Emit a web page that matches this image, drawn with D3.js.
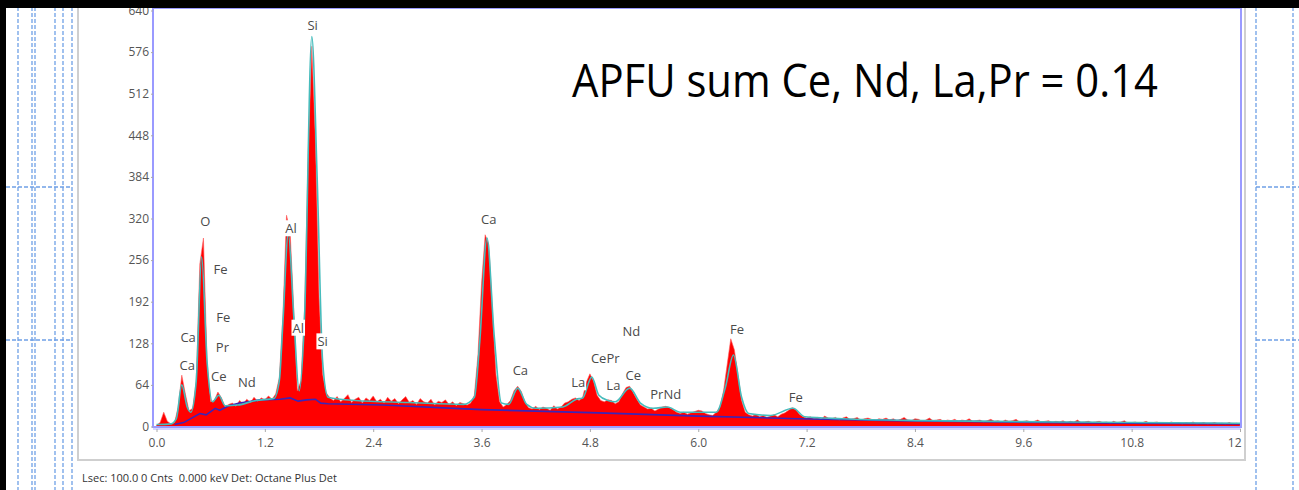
<!DOCTYPE html>
<html>
<head>
<meta charset="utf-8">
<script src="https://cdn.jsdelivr.net/npm/d3@7"></script>
<style>
  body { margin: 0; background: #fff; }
  svg { display: block; }
  text { font-family: "Open Sans", "Noto Sans", sans-serif; }
</style>
</head>
<body>
<div id="chart"></div>
<script>
// Spectrum counts, one value per 0.04 keV channel (0.00 .. 12.00 keV)
const channelWidth = 0.04;
const counts = [
  2, 6, 22, 8, 4, 6, 30, 79, 50, 24,            // 0.00
  28, 70, 250, 290, 100, 38, 40, 53, 44, 30,    // 0.40
  34, 36, 31, 40, 35, 42, 37, 45, 39, 44,       // 0.80
  41, 47, 42, 50, 75, 170, 325, 300, 180, 55,   // 1.20
  70, 180, 420, 585, 440, 200, 80, 52, 44, 40,  // 1.60
  46, 38, 43, 49, 37, 42, 45, 36, 44, 40,       // 2.00
  47, 38, 42, 36, 45, 39, 43, 35, 41, 46,       // 2.40
  37, 40, 34, 43, 38, 36, 42, 33, 39, 37,       // 2.80
  41, 34, 38, 32, 37, 35, 33, 36, 48, 110,      // 3.20
  220, 295, 280, 180, 80, 38, 30, 34, 40, 55,   // 3.60
  62, 54, 38, 29, 27, 31, 26, 30, 28, 25,       // 4.00
  32, 27, 30, 36, 38, 42, 44, 40, 45, 68,       // 4.40
  81, 70, 48, 40, 38, 41, 40, 35, 38, 50,       // 4.80
  60, 62, 52, 42, 33, 30, 27, 28, 24, 27,       // 5.20
  30, 31, 29, 26, 22, 20, 22, 19, 21, 23,       // 5.60
  25, 24, 20, 18, 17, 22, 30, 55, 95, 135,      // 6.00
  118, 80, 40, 22, 18, 16, 19, 15, 17, 14,      // 6.40
  16, 18, 15, 19, 21, 25, 29, 26, 19, 15,       // 6.80
  13, 15, 12, 14, 11, 16, 13, 12, 14, 10,       // 7.20
  13, 15, 11, 12, 14, 10, 12, 13, 11, 9,        // 7.60
  12, 11, 13, 10, 12, 9, 11, 14, 10, 9,         // 8.00
  12, 11, 8, 10, 13, 9, 10, 11, 8, 10,          // 8.40
  9, 11, 8, 10, 9, 12, 8, 9, 10, 7,             // 8.80
  9, 11, 8, 9, 7, 10, 8, 9, 11, 7,              // 9.20
  8, 9, 7, 8, 10, 7, 8, 9, 6, 8,                // 9.60
  7, 9, 6, 8, 7, 10, 6, 7, 8, 6,                // 10.00
  7, 8, 6, 7, 5, 8, 6, 7, 9, 5,                 // 10.40
  6, 7, 5, 6, 8, 5, 6, 7, 5, 6,                 // 10.80
  5, 7, 5, 6, 4, 6, 5, 7, 4, 5,                 // 11.20
  6, 4, 5, 6, 4, 5, 4, 6, 4, 5,                 // 11.60
  4                                             // 12.00
];

// Fitted spectrum (cyan line)
const fitEnergy = [0.00, 0.16, 0.22, 0.28, 0.34, 0.38, 0.44, 0.50, 0.56, 0.62, 0.69, 0.76, 0.90, 1.10, 1.30,
  1.36, 1.40, 1.46, 1.52, 1.58, 1.64, 1.72, 1.78, 1.84, 1.90, 2.20, 2.80, 3.40, 3.52, 3.58, 3.66, 3.74, 3.82,
  3.90, 4.00, 4.10, 4.20, 4.50, 4.65, 4.72, 4.82, 4.90, 5.00, 5.08, 5.24, 5.36, 5.50, 5.66, 5.80, 6.05, 6.20,
  6.30, 6.39, 6.48, 6.56, 6.80, 7.05, 7.18, 7.60, 8.50, 10.00, 12.00];
const fitCounts = [3, 4, 12, 64, 30, 22, 70, 261, 100, 38, 48, 32, 33, 40, 43,
  70, 160, 297, 170, 55, 170, 600, 380, 100, 45, 40, 37, 34, 45, 130, 290, 140, 36,
  34, 59, 34, 28, 30, 42, 44, 76, 48, 40, 38, 59, 36, 28, 30, 22, 22, 22,
  60, 110, 45, 20, 17, 28, 15, 12, 9, 7, 5];

// Background (dark blue line)
const bgEnergy = [0.20, 0.30, 0.48, 0.55, 0.65, 0.70, 0.80, 0.92, 1.15, 1.37, 1.48, 1.57, 1.66, 1.76, 1.82,
  1.90, 2.50, 3.60, 4.90, 6.00, 7.10, 8.20, 10.00, 12.00];
const bgCounts = [3, 6, 20, 18, 28, 25, 32, 36, 41, 42, 44, 39, 41, 42, 36,
  35, 33, 26, 21, 16, 12, 9, 6, 4];

// Element markers
const peakLabels = ["Si", "O", "Fe", "Fe", "Ca", "Pr", "Ca", "Ce", "Nd", "Al", "Al", "Si",
  "Ca", "Ca", "Nd", "CePr", "La", "La", "Ce", "PrNd", "Fe", "Fe"];
const peakLabelEnergy = [1.73, 0.54, 0.71, 0.74, 0.35, 0.73, 0.34, 0.69, 1.00, 1.49, 1.57, 1.84,
  3.68, 4.03, 5.26, 4.97, 4.67, 5.06, 5.28, 5.64, 6.43, 7.08];
const peakLabelCounts = [618, 316, 242, 168, 138, 123, 95, 78, 68, 305, 152, 131,
  319, 87, 147, 105, 68, 64, 79, 50, 150, 45];

// Axis ticks
const yTicks = [0, 64, 128, 192, 256, 320, 384, 448, 512, 576, 640];
const xTicks = [0, 1.2, 2.4, 3.6, 4.8, 6.0, 7.2, 8.4, 9.6, 10.8, 12];
const xTickLabels = ["0.0", "1.2", "2.4", "3.6", "4.8", "6.0", "7.2", "8.4", "9.6", "10.8", "12"];

const annotationText = "APFU sum Ce, Nd, La,Pr = 0.14";
const statusText = "Lsec: 100.0 0 Cnts  0.000 keV Det: Octane Plus Det";

function edsSpectrumChart(config) {
  const { width, height, container } = config;
  const plot = {left: 153, top: 8, right: 1241, bottom: 427};

  const containerElement = d3.select(container);
  containerElement.selectAll("svg").remove();

  const svg = containerElement.append("svg")
      .attr("width", width)
      .attr("height", height)
      .style("background", "#fff");

  // Page decoration: dashed guide lines left and right
  const guides = svg.append("g")
      .attr("stroke", "#6fa0e6")
      .attr("stroke-width", 1.3)
      .attr("stroke-dasharray", "4,2")
      .attr("fill", "none");
  [18, 32, 35, 55, 63, 72, 1256, 1293].forEach(x => {
    guides.append("line").attr("x1", x).attr("x2", x).attr("y1", 7).attr("y2", height);
  });
  [187, 340].forEach(y => {
    guides.append("line").attr("x1", 6).attr("x2", 72).attr("y1", y).attr("y2", y);
    guides.append("line").attr("x1", 1256).attr("x2", width).attr("y1", y).attr("y2", y);
  });

  // Panel border
  svg.append("path")
      .attr("d", `M78,0 V460 H1245 V0`)
      .attr("fill", "none")
      .attr("stroke", "#cfcfcf")
      .attr("stroke-width", 2);

  // Scales
  const xScale = d3.scaleLinear().domain([0, 12]).range([156.5, 1240]);
  const yScale = d3.scaleLinear().domain([0, 640]).range([426.5, 10.5]);

  svg.append("clipPath").attr("id", "plot-clip")
    .append("rect")
      .attr("x", plot.left).attr("y", plot.top)
      .attr("width", plot.right - plot.left).attr("height", plot.bottom - plot.top);

  const spectrum = counts.map((c, i) => ({e: i * channelWidth, c: c}));
  const fit = fitEnergy.map((e, i) => ({e: e, c: fitCounts[i]}));
  const background = bgEnergy.map((e, i) => ({e: e, c: bgCounts[i]}));

  const plotArea = svg.append("g").attr("clip-path", "url(#plot-clip)");

  // Red counts area
  plotArea.append("path")
      .datum(spectrum)
      .attr("fill", "#ff0000")
      .attr("stroke", "#ff5a5a")
      .attr("stroke-width", 0.6)
      .attr("d", d3.area()
        .x(d => xScale(d.e))
        .y0(yScale(0))
        .y1(d => yScale(d.c)));

  // Background line
  plotArea.append("path")
      .datum(background)
      .attr("fill", "none")
      .attr("stroke", "#3a25b8")
      .attr("stroke-width", 1.6)
      .attr("d", d3.line().x(d => xScale(d.e)).y(d => yScale(d.c)));

  // Fit line
  plotArea.append("path")
      .datum(fit)
      .attr("fill", "none")
      .attr("stroke", "#46bcbc")
      .attr("stroke-width", 1.6)
      .attr("d", d3.line().curve(d3.curveMonotoneX).x(d => xScale(d.e)).y(d => yScale(d.c)));

  // Plot frame
  svg.append("rect")
      .attr("x", plot.left).attr("y", plot.top)
      .attr("width", plot.right - plot.left).attr("height", plot.bottom - plot.top)
      .attr("fill", "none")
      .attr("stroke", "#9a9aff")
      .attr("stroke-width", 2);
  svg.append("line")
      .attr("x1", plot.left).attr("x2", plot.right)
      .attr("y1", plot.bottom + 2).attr("y2", plot.bottom + 2)
      .attr("stroke", "#c4c4ff").attr("stroke-width", 1.5);

  // Add x-axis
  const xAxis = svg.append("g")
      .attr("class", "x-axis")
      .attr("transform", `translate(0,${plot.bottom + 2})`)
      .call(d3.axisBottom(xScale).tickValues(xTicks).tickSize(3).tickPadding(6)
        .tickFormat((d, i) => xTickLabels[i]));
  xAxis.select(".domain").remove();
  xAxis.selectAll(".tick line").attr("stroke", "#aaa");
  xAxis.selectAll(".tick text")
      .attr("fill", "#555")
      .style("font-size", "12px");
  xAxis.selectAll(".tick").filter(d => d === 12).select("text")
      .attr("text-anchor", "end").attr("x", 1);

  // Add y-axis
  const yAxis = svg.append("g")
      .attr("class", "y-axis")
      .attr("transform", `translate(${plot.left},0)`)
      .call(d3.axisLeft(yScale).tickValues(yTicks).tickSize(2).tickPadding(2));
  yAxis.select(".domain").remove();
  yAxis.selectAll(".tick line").attr("stroke", "#aaa");
  yAxis.selectAll(".tick text")
      .attr("fill", "#555")
      .style("font-size", "12px");

  // Element labels
  const labels = svg.append("g").attr("class", "peak-labels");
  peakLabels.forEach((name, i) => {
    const g = labels.append("g");
    const t = g.append("text")
        .attr("x", xScale(peakLabelEnergy[i]))
        .attr("y", yScale(peakLabelCounts[i]))
        .attr("text-anchor", "middle")
        .attr("dominant-baseline", "central")
        .attr("fill", "#4a4a4a")
        .style("font-size", "13px")
        .text(name);
    const bb = t.node().getBBox();
    g.insert("rect", "text")
        .attr("x", bb.x - 1).attr("y", bb.y + 1)
        .attr("width", bb.width + 2).attr("height", bb.height - 2)
        .attr("fill", "#fff");
  });

  // Annotation
  svg.append("text")
      .attr("x", 572)
      .attr("y", 97)
      .attr("fill", "#000")
      .attr("textLength", 586)
      .attr("lengthAdjust", "spacingAndGlyphs")
      .style("font-size", "46px")
      .text(annotationText);

  // Status line under the panel
  svg.append("text")
      .attr("x", 82)
      .attr("y", 482)
      .attr("fill", "#333")
      .style("font-size", "11px")
      .style("white-space", "pre")
      .text(statusText);

  // Black screen edges
  svg.append("rect").attr("x", 0).attr("y", 0).attr("width", width).attr("height", 8).attr("fill", "#000");
  svg.append("rect").attr("x", 0).attr("y", 0).attr("width", 6).attr("height", height).attr("fill", "#000");
}

edsSpectrumChart({ width: 1299, height: 490, container: "#chart" });
</script>
</body>
</html>
